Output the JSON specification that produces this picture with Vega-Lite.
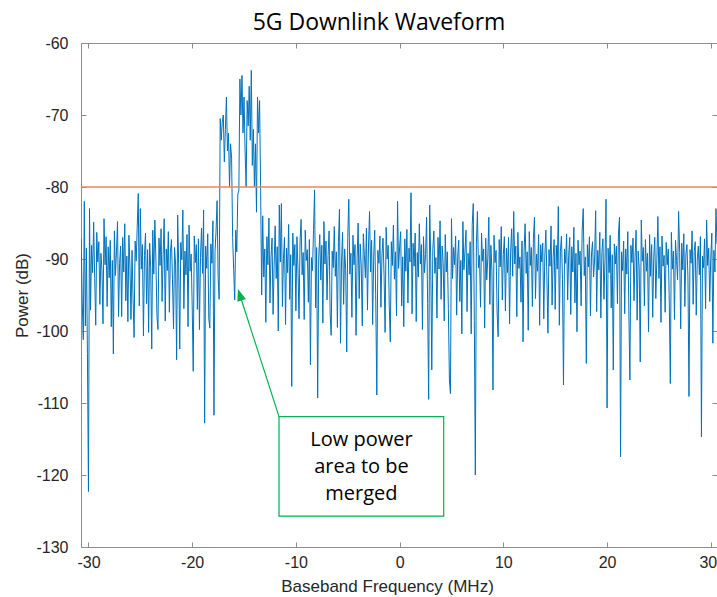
{
  "$schema": "https://vega.github.io/schema/vega-lite/v6.json",
  "width": 636,
  "height": 504,
  "autosize": {"type": "none"},
  "padding": {"left": 81, "top": 43, "right": 0, "bottom": 50},
  "background": "white",
  "title": {
    "text": "5G Downlink Waveform",
    "frame": "group",
    "anchor": "middle",
    "dx": -20,
    "offset": -18,
    "baseline": "alphabetic",
    "font": "Open Sans",
    "fontSize": 23,
    "fontWeight": "normal",
    "color": "#000000"
  },
  "config": {
    "view": {"stroke": null},
    "axis": {
      "grid": false,
      "domainColor": "#8c8c8c",
      "tickColor": "#8c8c8c",
      "tickSize": -5,
      "labelColor": "#262626",
      "labelFont": "Liberation Sans",
      "labelFontSize": 16,
      "labelFlush": false,
      "labelExpr": "'' + datum.value",
      "titleFont": "Liberation Sans",
      "titleFontSize": 17,
      "titleFontWeight": "normal",
      "titleColor": "#262626"
    }
  },
  "data": {"values": [{}]},
  "datasets": {
    "spectrum": [
      {"mhz":-30.7,"db":-87.2},{"mhz":-30.6,"db":-96.0},{"mhz":-30.5,"db":-101.2},{"mhz":-30.4,"db":-82.0},{"mhz":-30.3,"db":-99.3},{"mhz":-30.2,"db":-88.5},{"mhz":-30.1,"db":-103.1},{"mhz":-30.0,"db":-122.3},
      {"mhz":-29.9,"db":-83.0},{"mhz":-29.8,"db":-97.1},{"mhz":-29.7,"db":-88.1},{"mhz":-29.6,"db":-91.9},{"mhz":-29.5,"db":-84.9},{"mhz":-29.4,"db":-92.7},{"mhz":-29.3,"db":-99.2},{"mhz":-29.2,"db":-86.3},{"mhz":-29.1,"db":-90.4},{"mhz":-29.0,"db":-87.6},
      {"mhz":-28.9,"db":-96.3},{"mhz":-28.8,"db":-89.2},{"mhz":-28.7,"db":-91.5},{"mhz":-28.6,"db":-99.0},{"mhz":-28.5,"db":-84.4},{"mhz":-28.4,"db":-90.8},{"mhz":-28.3,"db":-86.9},{"mhz":-28.2,"db":-96.6},{"mhz":-28.1,"db":-88.3},{"mhz":-28.0,"db":-92.6},
      {"mhz":-27.9,"db":-87.4},{"mhz":-27.8,"db":-99.4},{"mhz":-27.7,"db":-90.2},{"mhz":-27.6,"db":-103.2},{"mhz":-27.5,"db":-86.1},{"mhz":-27.4,"db":-92.3},{"mhz":-27.3,"db":-89.0},{"mhz":-27.2,"db":-84.8},{"mhz":-27.1,"db":-98.0},{"mhz":-27.0,"db":-90.6},
      {"mhz":-26.9,"db":-88.2},{"mhz":-26.8,"db":-98.0},{"mhz":-26.7,"db":-87.0},{"mhz":-26.6,"db":-91.8},{"mhz":-26.5,"db":-85.1},{"mhz":-26.4,"db":-95.8},{"mhz":-26.3,"db":-89.6},{"mhz":-26.2,"db":-98.7},{"mhz":-26.1,"db":-86.7},{"mhz":-26.0,"db":-91.1},
      {"mhz":-25.9,"db":-98.4},{"mhz":-25.8,"db":-88.8},{"mhz":-25.7,"db":-95.5},{"mhz":-25.6,"db":-100.9},{"mhz":-25.5,"db":-87.5},{"mhz":-25.4,"db":-90.3},{"mhz":-25.3,"db":-85.6},{"mhz":-25.2,"db":-80.9},{"mhz":-25.1,"db":-96.5},{"mhz":-25.0,"db":-83.0},
      {"mhz":-24.9,"db":-91.4},{"mhz":-24.8,"db":-88.0},{"mhz":-24.7,"db":-100.7},{"mhz":-24.6,"db":-89.5},{"mhz":-24.5,"db":-86.4},{"mhz":-24.4,"db":-96.2},{"mhz":-24.3,"db":-88.7},{"mhz":-24.2,"db":-100.2},{"mhz":-24.1,"db":-87.8},{"mhz":-24.0,"db":-91.2},
      {"mhz":-23.9,"db":-102.5},{"mhz":-23.8,"db":-86.0},{"mhz":-23.7,"db":-92.1},{"mhz":-23.6,"db":-84.6},{"mhz":-23.5,"db":-90.0},{"mhz":-23.4,"db":-97.8},{"mhz":-23.3,"db":-99.8},{"mhz":-23.2,"db":-87.1},{"mhz":-23.1,"db":-90.9},{"mhz":-23.0,"db":-85.8},
      {"mhz":-22.9,"db":-95.9},{"mhz":-22.8,"db":-89.4},{"mhz":-22.7,"db":-84.4},{"mhz":-22.6,"db":-98.6},{"mhz":-22.5,"db":-88.6},{"mhz":-22.4,"db":-91.6},{"mhz":-22.3,"db":-86.2},{"mhz":-22.2,"db":-97.4},{"mhz":-22.1,"db":-89.1},{"mhz":-22.0,"db":-87.3},
      {"mhz":-21.9,"db":-92.8},{"mhz":-21.8,"db":-99.7},{"mhz":-21.7,"db":-88.4},{"mhz":-21.6,"db":-90.7},{"mhz":-21.5,"db":-104.0},{"mhz":-21.4,"db":-83.9},{"mhz":-21.3,"db":-91.0},{"mhz":-21.2,"db":-102.5},{"mhz":-21.1,"db":-87.7},{"mhz":-21.0,"db":-90.1},
      {"mhz":-20.9,"db":-83.2},{"mhz":-20.8,"db":-96.9},{"mhz":-20.7,"db":-88.9},{"mhz":-20.6,"db":-92.2},{"mhz":-20.5,"db":-86.6},{"mhz":-20.4,"db":-99.4},{"mhz":-20.3,"db":-85.3},{"mhz":-20.2,"db":-91.7},{"mhz":-20.1,"db":-89.3},{"mhz":-20.0,"db":-96.4},
      {"mhz":-19.9,"db":-105.6},{"mhz":-19.8,"db":-86.8},{"mhz":-19.7,"db":-90.5},{"mhz":-19.6,"db":-88.0},{"mhz":-19.5,"db":-97.0},{"mhz":-19.4,"db":-87.2},{"mhz":-19.3,"db":-99.8},{"mhz":-19.2,"db":-89.8},{"mhz":-19.1,"db":-85.7},{"mhz":-19.0,"db":-92.0},
      {"mhz":-18.9,"db":-83.2},{"mhz":-18.8,"db":-112.8},{"mhz":-18.7,"db":-88.2},{"mhz":-18.6,"db":-91.3},{"mhz":-18.5,"db":-86.5},{"mhz":-18.4,"db":-98.3},{"mhz":-18.3,"db":-99.6},{"mhz":-18.2,"db":-87.9},{"mhz":-18.1,"db":-90.6},{"mhz":-18.0,"db":-84.7},
      {"mhz":-17.9,"db":-111.7},{"mhz":-17.8,"db":-89.0},{"mhz":-17.7,"db":-86.2},{"mhz":-17.6,"db":-81.9},{"mhz":-17.5,"db":-92.4},{"mhz":-17.4,"db":-95.6},{"mhz":-17.3,"db":-70.5},{"mhz":-17.2,"db":-73.5},{"mhz":-17.1,"db":-71.0},{"mhz":-17.0,"db":-70.0},
      {"mhz":-16.9,"db":-76.5},{"mhz":-16.8,"db":-72.0},{"mhz":-16.7,"db":-67.5},{"mhz":-16.6,"db":-75.0},{"mhz":-16.5,"db":-72.5},{"mhz":-16.4,"db":-80.0},{"mhz":-16.3,"db":-74.0},{"mhz":-16.2,"db":-76.0},{"mhz":-16.1,"db":-87.0},{"mhz":-16.0,"db":-91.5},
      {"mhz":-15.9,"db":-95.7},{"mhz":-15.8,"db":-86.0},{"mhz":-15.7,"db":-89.0},{"mhz":-15.6,"db":-81.0},{"mhz":-15.5,"db":-80.5},{"mhz":-15.4,"db":-65.0},{"mhz":-15.3,"db":-70.0},{"mhz":-15.2,"db":-64.5},{"mhz":-15.1,"db":-72.5},{"mhz":-15.0,"db":-67.5},
      {"mhz":-14.9,"db":-75.0},{"mhz":-14.8,"db":-80.0},{"mhz":-14.7,"db":-68.0},{"mhz":-14.6,"db":-71.5},{"mhz":-14.5,"db":-66.0},{"mhz":-14.4,"db":-73.5},{"mhz":-14.3,"db":-63.8},{"mhz":-14.2,"db":-77.0},{"mhz":-14.1,"db":-72.0},{"mhz":-14.0,"db":-80.0},
      {"mhz":-13.9,"db":-74.0},{"mhz":-13.8,"db":-83.5},{"mhz":-13.7,"db":-67.5},{"mhz":-13.6,"db":-72.5},{"mhz":-13.5,"db":-68.0},{"mhz":-13.4,"db":-80.5},{"mhz":-13.3,"db":-95.0},{"mhz":-13.2,"db":-84.0},{"mhz":-13.1,"db":-92.5},{"mhz":-13.0,"db":-88.6},
      {"mhz":-12.9,"db":-98.8},{"mhz":-12.8,"db":-86.9},{"mhz":-12.7,"db":-90.8},{"mhz":-12.6,"db":-84.3},{"mhz":-12.5,"db":-96.1},{"mhz":-12.4,"db":-89.7},{"mhz":-12.3,"db":-87.1},{"mhz":-12.2,"db":-97.7},{"mhz":-12.1,"db":-91.0},{"mhz":-12.0,"db":-85.4},
      {"mhz":-11.9,"db":-92.7},{"mhz":-11.8,"db":-88.3},{"mhz":-11.7,"db":-100.0},{"mhz":-11.6,"db":-82.5},{"mhz":-11.5,"db":-90.4},{"mhz":-11.4,"db":-82.3},{"mhz":-11.3,"db":-96.6},{"mhz":-11.2,"db":-89.9},{"mhz":-11.1,"db":-87.0},{"mhz":-11.0,"db":-99.1},
      {"mhz":-10.9,"db":-88.5},{"mhz":-10.8,"db":-91.9},{"mhz":-10.7,"db":-85.2},{"mhz":-10.6,"db":-95.6},{"mhz":-10.5,"db":-89.4},{"mhz":-10.4,"db":-107.7},{"mhz":-10.3,"db":-86.4},{"mhz":-10.2,"db":-90.9},{"mhz":-10.1,"db":-88.0},{"mhz":-10.0,"db":-97.2},
      {"mhz":-9.9,"db":-86.9},{"mhz":-9.8,"db":-91.4},{"mhz":-9.7,"db":-98.3},{"mhz":-9.6,"db":-87.6},{"mhz":-9.5,"db":-84.5},{"mhz":-9.4,"db":-92.2},{"mhz":-9.3,"db":-89.1},{"mhz":-9.2,"db":-98.4},{"mhz":-9.1,"db":-86.0},{"mhz":-9.0,"db":-90.2},
      {"mhz":-8.9,"db":-88.7},{"mhz":-8.8,"db":-96.0},{"mhz":-8.7,"db":-87.3},{"mhz":-8.6,"db":-104.7},{"mhz":-8.5,"db":-89.8},{"mhz":-8.4,"db":-91.6},{"mhz":-8.3,"db":-85.9},{"mhz":-8.2,"db":-80.4},{"mhz":-8.1,"db":-96.8},{"mhz":-8.0,"db":-88.4},
      {"mhz":-7.9,"db":-109.3},{"mhz":-7.8,"db":-90.0},{"mhz":-7.7,"db":-86.6},{"mhz":-7.6,"db":-92.9},{"mhz":-7.5,"db":-88.1},{"mhz":-7.4,"db":-98.9},{"mhz":-7.3,"db":-84.8},{"mhz":-7.2,"db":-90.7},{"mhz":-7.1,"db":-87.5},{"mhz":-7.0,"db":-95.7},
      {"mhz":-6.9,"db":-89.5},{"mhz":-6.8,"db":-86.1},{"mhz":-6.7,"db":-97.5},{"mhz":-6.6,"db":-100.6},{"mhz":-6.5,"db":-88.9},{"mhz":-6.4,"db":-91.2},{"mhz":-6.3,"db":-85.5},{"mhz":-6.2,"db":-92.4},{"mhz":-6.1,"db":-89.0},{"mhz":-6.0,"db":-99.5},
      {"mhz":-5.9,"db":-87.7},{"mhz":-5.8,"db":-83.1},{"mhz":-5.7,"db":-101.7},{"mhz":-5.6,"db":-90.3},{"mhz":-5.5,"db":-86.3},{"mhz":-5.4,"db":-96.3},{"mhz":-5.3,"db":-88.6},{"mhz":-5.2,"db":-91.5},{"mhz":-5.1,"db":-102.9},{"mhz":-5.0,"db":-87.0},
      {"mhz":-4.9,"db":-81.7},{"mhz":-4.8,"db":-92.1},{"mhz":-4.7,"db":-89.2},{"mhz":-4.6,"db":-98.1},{"mhz":-4.5,"db":-86.7},{"mhz":-4.4,"db":-90.8},{"mhz":-4.3,"db":-88.0},{"mhz":-4.2,"db":-100.6},{"mhz":-4.1,"db":-89.9},{"mhz":-4.0,"db":-85.0},
      {"mhz":-3.9,"db":-95.5},{"mhz":-3.8,"db":-87.9},{"mhz":-3.7,"db":-91.1},{"mhz":-3.6,"db":-99.3},{"mhz":-3.5,"db":-86.5},{"mhz":-3.4,"db":-89.4},{"mhz":-3.3,"db":-92.6},{"mhz":-3.2,"db":-85.7},{"mhz":-3.1,"db":-97.1},{"mhz":-3.0,"db":-88.2},
      {"mhz":-2.9,"db":-83.4},{"mhz":-2.8,"db":-91.8},{"mhz":-2.7,"db":-87.4},{"mhz":-2.6,"db":-99.1},{"mhz":-2.5,"db":-89.6},{"mhz":-2.4,"db":-86.0},{"mhz":-2.3,"db":-95.8},{"mhz":-2.2,"db":-108.9},{"mhz":-2.1,"db":-88.8},{"mhz":-2.0,"db":-90.6},
      {"mhz":-1.9,"db":-86.8},{"mhz":-1.8,"db":-96.7},{"mhz":-1.7,"db":-89.3},{"mhz":-1.6,"db":-87.1},{"mhz":-1.5,"db":-92.3},{"mhz":-1.4,"db":-100.2},{"mhz":-1.3,"db":-85.6},{"mhz":-1.2,"db":-90.0},{"mhz":-1.1,"db":-88.1},{"mhz":-1.0,"db":-96.4},
      {"mhz":-0.9,"db":-101.5},{"mhz":-0.8,"db":-87.6},{"mhz":-0.7,"db":-90.9},{"mhz":-0.6,"db":-85.3},{"mhz":-0.5,"db":-92.8},{"mhz":-0.4,"db":-89.0},{"mhz":-0.3,"db":-97.9},{"mhz":-0.2,"db":-82.0},{"mhz":-0.1,"db":-91.3},{"mhz":0.0,"db":-88.3},
      {"mhz":0.1,"db":-86.2},{"mhz":0.2,"db":-96.5},{"mhz":0.3,"db":-89.7},{"mhz":0.4,"db":-99.4},{"mhz":0.5,"db":-87.2},{"mhz":0.6,"db":-91.7},{"mhz":0.7,"db":-85.9},{"mhz":0.8,"db":-96.1},{"mhz":0.9,"db":-88.5},{"mhz":1.0,"db":-90.4},
      {"mhz":1.1,"db":-80.8},{"mhz":1.2,"db":-97.6},{"mhz":1.3,"db":-87.8},{"mhz":1.4,"db":-91.0},{"mhz":1.5,"db":-86.4},{"mhz":1.6,"db":-98.7},{"mhz":1.7,"db":-89.1},{"mhz":1.8,"db":-92.5},{"mhz":1.9,"db":-85.1},{"mhz":2.0,"db":-90.7},
      {"mhz":2.1,"db":-88.0},{"mhz":2.2,"db":-99.8},{"mhz":2.3,"db":-86.9},{"mhz":2.4,"db":-91.9},{"mhz":2.5,"db":-89.4},{"mhz":2.6,"db":-84.2},{"mhz":2.7,"db":-96.2},{"mhz":2.8,"db":-109.5},{"mhz":2.9,"db":-82.5},{"mhz":3.0,"db":-90.1},
      {"mhz":3.1,"db":-105.4},{"mhz":3.2,"db":-88.7},{"mhz":3.3,"db":-86.1},{"mhz":3.4,"db":-92.0},{"mhz":3.5,"db":-89.8},{"mhz":3.6,"db":-98.2},{"mhz":3.7,"db":-87.0},{"mhz":3.8,"db":-91.4},{"mhz":3.9,"db":-84.7},{"mhz":4.0,"db":-95.6},
      {"mhz":4.1,"db":-88.2},{"mhz":4.2,"db":-90.6},{"mhz":4.3,"db":-98.6},{"mhz":4.4,"db":-86.6},{"mhz":4.5,"db":-91.8},{"mhz":4.6,"db":-89.0},{"mhz":4.7,"db":-96.9},{"mhz":4.8,"db":-106.8},{"mhz":4.9,"db":-108.7},{"mhz":5.0,"db":-84.4},
      {"mhz":5.1,"db":-92.7},{"mhz":5.2,"db":-88.4},{"mhz":5.3,"db":-90.8},{"mhz":5.4,"db":-86.8},{"mhz":5.5,"db":-97.8},{"mhz":5.6,"db":-89.6},{"mhz":5.7,"db":-87.4},{"mhz":5.8,"db":-95.9},{"mhz":5.9,"db":-90.2},{"mhz":6.0,"db":-100.4},
      {"mhz":6.1,"db":-84.8},{"mhz":6.2,"db":-91.5},{"mhz":6.3,"db":-88.9},{"mhz":6.4,"db":-86.0},{"mhz":6.5,"db":-97.3},{"mhz":6.6,"db":-89.2},{"mhz":6.7,"db":-92.2},{"mhz":6.8,"db":-87.6},{"mhz":6.9,"db":-100.4},{"mhz":7.0,"db":-85.2},
      {"mhz":7.1,"db":-82.3},{"mhz":7.2,"db":-98.5},{"mhz":7.3,"db":-120.0},{"mhz":7.4,"db":-88.0},{"mhz":7.5,"db":-83.4},{"mhz":7.6,"db":-91.2},{"mhz":7.7,"db":-89.5},{"mhz":7.8,"db":-96.7},{"mhz":7.9,"db":-86.4},{"mhz":8.0,"db":-90.3},
      {"mhz":8.1,"db":-88.6},{"mhz":8.2,"db":-99.6},{"mhz":8.3,"db":-87.1},{"mhz":8.4,"db":-92.9},{"mhz":8.5,"db":-89.9},{"mhz":8.6,"db":-84.2},{"mhz":8.7,"db":-96.3},{"mhz":8.8,"db":-88.1},{"mhz":8.9,"db":-91.6},{"mhz":9.0,"db":-108.2},
      {"mhz":9.1,"db":-86.7},{"mhz":9.2,"db":-90.5},{"mhz":9.3,"db":-88.8},{"mhz":9.4,"db":-97.5},{"mhz":9.5,"db":-100.8},{"mhz":9.6,"db":-87.3},{"mhz":9.7,"db":-91.1},{"mhz":9.8,"db":-85.5},{"mhz":9.9,"db":-95.7},{"mhz":10.0,"db":-89.4},
      {"mhz":10.1,"db":-86.9},{"mhz":10.2,"db":-97.2},{"mhz":10.3,"db":-88.5},{"mhz":10.4,"db":-91.9},{"mhz":10.5,"db":-87.0},{"mhz":10.6,"db":-99.0},{"mhz":10.7,"db":-89.1},{"mhz":10.8,"db":-85.8},{"mhz":10.9,"db":-92.4},{"mhz":11.0,"db":-83.4},
      {"mhz":11.1,"db":-90.7},{"mhz":11.2,"db":-88.2},{"mhz":11.3,"db":-98.0},{"mhz":11.4,"db":-86.3},{"mhz":11.5,"db":-91.3},{"mhz":11.6,"db":-89.7},{"mhz":11.7,"db":-96.0},{"mhz":11.8,"db":-87.5},{"mhz":11.9,"db":-101.5},{"mhz":12.0,"db":-88.9},
      {"mhz":12.1,"db":-85.1},{"mhz":12.2,"db":-92.0},{"mhz":12.3,"db":-89.0},{"mhz":12.4,"db":-99.9},{"mhz":12.5,"db":-86.2},{"mhz":12.6,"db":-90.9},{"mhz":12.7,"db":-88.4},{"mhz":12.8,"db":-96.6},{"mhz":12.9,"db":-87.2},{"mhz":13.0,"db":-84.2},
      {"mhz":13.1,"db":-95.5},{"mhz":13.2,"db":-89.3},{"mhz":13.3,"db":-91.7},{"mhz":13.4,"db":-86.6},{"mhz":13.5,"db":-99.2},{"mhz":13.6,"db":-88.0},{"mhz":13.7,"db":-90.4},{"mhz":13.8,"db":-87.8},{"mhz":13.9,"db":-98.3},{"mhz":14.0,"db":-89.6},
      {"mhz":14.1,"db":-86.0},{"mhz":14.2,"db":-92.6},{"mhz":14.3,"db":-100.3},{"mhz":14.4,"db":-88.7},{"mhz":14.5,"db":-91.0},{"mhz":14.6,"db":-85.4},{"mhz":14.7,"db":-96.4},{"mhz":14.8,"db":-89.8},{"mhz":14.9,"db":-87.3},{"mhz":15.0,"db":-97.0},
      {"mhz":15.1,"db":-88.1},{"mhz":15.2,"db":-91.4},{"mhz":15.3,"db":-82.7},{"mhz":15.4,"db":-99.2},{"mhz":15.5,"db":-89.0},{"mhz":15.6,"db":-86.8},{"mhz":15.7,"db":-92.8},{"mhz":15.8,"db":-107.5},{"mhz":15.9,"db":-88.6},{"mhz":16.0,"db":-90.6},
      {"mhz":16.1,"db":-86.5},{"mhz":16.2,"db":-95.7},{"mhz":16.3,"db":-89.5},{"mhz":16.4,"db":-87.0},{"mhz":16.5,"db":-97.7},{"mhz":16.6,"db":-88.3},{"mhz":16.7,"db":-91.8},{"mhz":16.8,"db":-85.6},{"mhz":16.9,"db":-96.1},{"mhz":17.0,"db":-89.2},
      {"mhz":17.1,"db":-100.1},{"mhz":17.2,"db":-87.4},{"mhz":17.3,"db":-90.8},{"mhz":17.4,"db":-88.9},{"mhz":17.5,"db":-96.5},{"mhz":17.6,"db":-86.1},{"mhz":17.7,"db":-83.0},{"mhz":17.8,"db":-92.3},{"mhz":17.9,"db":-89.7},{"mhz":18.0,"db":-104.5},
      {"mhz":18.1,"db":-88.0},{"mhz":18.2,"db":-91.1},{"mhz":18.3,"db":-86.9},{"mhz":18.4,"db":-97.9},{"mhz":18.5,"db":-89.3},{"mhz":18.6,"db":-87.6},{"mhz":18.7,"db":-92.5},{"mhz":18.8,"db":-90.0},{"mhz":18.9,"db":-83.3},{"mhz":19.0,"db":-97.3},
      {"mhz":19.1,"db":-88.8},{"mhz":19.2,"db":-91.5},{"mhz":19.3,"db":-86.3},{"mhz":19.4,"db":-98.2},{"mhz":19.5,"db":-89.1},{"mhz":19.6,"db":-87.2},{"mhz":19.7,"db":-95.6},{"mhz":19.8,"db":-90.2},{"mhz":19.9,"db":-81.7},{"mhz":20.0,"db":-110.7},
      {"mhz":20.1,"db":-88.5},{"mhz":20.2,"db":-91.9},{"mhz":20.3,"db":-86.7},{"mhz":20.4,"db":-96.8},{"mhz":20.5,"db":-89.4},{"mhz":20.6,"db":-105.4},{"mhz":20.7,"db":-87.9},{"mhz":20.8,"db":-90.7},{"mhz":20.9,"db":-88.2},{"mhz":21.0,"db":-96.2},
      {"mhz":21.1,"db":-86.4},{"mhz":21.2,"db":-84.2},{"mhz":21.3,"db":-117.5},{"mhz":21.4,"db":-89.0},{"mhz":21.5,"db":-91.6},{"mhz":21.6,"db":-87.5},{"mhz":21.7,"db":-97.6},{"mhz":21.8,"db":-88.6},{"mhz":21.9,"db":-92.1},{"mhz":22.0,"db":-86.2},
      {"mhz":22.1,"db":-97.1},{"mhz":22.2,"db":-106.8},{"mhz":22.3,"db":-88.1},{"mhz":22.4,"db":-90.5},{"mhz":22.5,"db":-87.1},{"mhz":22.6,"db":-95.8},{"mhz":22.7,"db":-89.6},{"mhz":22.8,"db":-86.0},{"mhz":22.9,"db":-98.5},{"mhz":23.0,"db":-88.9},
      {"mhz":23.1,"db":-91.3},{"mhz":23.2,"db":-104.3},{"mhz":23.3,"db":-84.6},{"mhz":23.4,"db":-90.3},{"mhz":23.5,"db":-88.4},{"mhz":23.6,"db":-96.5},{"mhz":23.7,"db":-87.3},{"mhz":23.8,"db":-91.7},{"mhz":23.9,"db":-89.2},{"mhz":24.0,"db":-100.1},
      {"mhz":24.1,"db":-86.6},{"mhz":24.2,"db":-92.4},{"mhz":24.3,"db":-88.0},{"mhz":24.4,"db":-98.1},{"mhz":24.5,"db":-89.8},{"mhz":24.6,"db":-87.0},{"mhz":24.7,"db":-95.5},{"mhz":24.8,"db":-90.1},{"mhz":24.9,"db":-84.1},{"mhz":25.0,"db":-92.7},
      {"mhz":25.1,"db":-88.3},{"mhz":25.2,"db":-98.8},{"mhz":25.3,"db":-86.8},{"mhz":25.4,"db":-91.0},{"mhz":25.5,"db":-89.5},{"mhz":25.6,"db":-97.4},{"mhz":25.7,"db":-87.7},{"mhz":25.8,"db":-90.8},{"mhz":25.9,"db":-88.6},{"mhz":26.0,"db":-96.0},
      {"mhz":26.1,"db":-107.3},{"mhz":26.2,"db":-86.3},{"mhz":26.3,"db":-91.4},{"mhz":26.4,"db":-88.9},{"mhz":26.5,"db":-98.4},{"mhz":26.6,"db":-87.4},{"mhz":26.7,"db":-90.2},{"mhz":26.8,"db":-92.9},{"mhz":26.9,"db":-83.4},{"mhz":27.0,"db":-89.1},
      {"mhz":27.1,"db":-99.7},{"mhz":27.2,"db":-87.8},{"mhz":27.3,"db":-91.5},{"mhz":27.4,"db":-86.5},{"mhz":27.5,"db":-96.6},{"mhz":27.6,"db":-89.3},{"mhz":27.7,"db":-88.0},{"mhz":27.8,"db":-92.6},{"mhz":27.9,"db":-109.1},{"mhz":28.0,"db":-88.7},
      {"mhz":28.1,"db":-90.6},{"mhz":28.2,"db":-86.1},{"mhz":28.3,"db":-96.3},{"mhz":28.4,"db":-89.0},{"mhz":28.5,"db":-87.6},{"mhz":28.6,"db":-97.8},{"mhz":28.7,"db":-90.0},{"mhz":28.8,"db":-88.2},{"mhz":28.9,"db":-92.2},{"mhz":29.0,"db":-86.9},
      {"mhz":29.1,"db":-114.7},{"mhz":29.2,"db":-89.6},{"mhz":29.3,"db":-91.2},{"mhz":29.4,"db":-87.2},{"mhz":29.5,"db":-96.9},{"mhz":29.6,"db":-84.6},{"mhz":29.7,"db":-90.9},{"mhz":29.8,"db":-88.5},{"mhz":29.9,"db":-95.9},{"mhz":30.0,"db":-89.9},
      {"mhz":30.1,"db":-86.4},{"mhz":30.2,"db":-101.7},{"mhz":30.3,"db":-88.8},{"mhz":30.4,"db":-91.8},{"mhz":30.5,"db":-83.0},{"mhz":30.6,"db":-87.9}
    ]
  },
  "layer": [
    {
      "data": {"name": "spectrum"},
      "mark": {"type": "line", "color": "#0072BD", "strokeWidth": 1, "clip": true},
      "encoding": {
        "x": {
          "field": "mhz",
          "type": "quantitative",
          "scale": {"domain": [-30.72, 30.6], "nice": false, "zero": false},
          "axis": {
            "orient": "bottom",
            "values": [-30, -20, -10, 0, 10, 20, 30],
            "labelPadding": 12,
            "labelOffset": {"condition": {"test": "datum.value == 30", "value": -3}, "value": 0},
            "title": "Baseband Frequency (MHz)",
            "titleBaseline": "alphabetic",
            "titleX": 306,
            "titleY": 44
          }
        },
        "y": {
          "field": "db",
          "type": "quantitative",
          "scale": {"domain": [-130, -60], "nice": false, "zero": false},
          "axis": {
            "orient": "left",
            "values": [-130, -120, -110, -100, -90, -80, -70, -60],
            "labelPadding": 18,
            "title": "Power (dB)",
            "titleBaseline": "middle",
            "titleX": -59,
            "titleY": 252
          }
        }
      }
    },
    {
      "mark": {"type": "rule", "color": "#E8875F", "strokeWidth": 1.3},
      "encoding": {
        "y": {
          "datum": -80,
          "type": "quantitative",
          "axis": {
            "orient": "right",
            "values": [-130, -120, -110, -100, -90, -80, -70, -60],
            "labels": false,
            "title": null
          }
        }
      }
    },
    {
      "mark": {"type": "rect", "fill": "white", "stroke": "#00B050", "strokeWidth": 1.2},
      "encoding": {
        "x": {
          "datum": -11.63,
          "type": "quantitative",
          "axis": {
            "orient": "top",
            "values": [-30, -20, -10, 0, 10, 20, 30],
            "labels": false,
            "title": null
          }
        },
        "x2": {"datum": 4.25},
        "y": {"datum": -111.9, "type": "quantitative", "axis": null},
        "y2": {"datum": -125.7}
      }
    },
    {
      "mark": {
        "type": "text",
        "text": ["Low power", "area to be", "merged"],
        "font": "Open Sans",
        "fontSize": 20,
        "lineHeight": 27,
        "align": "center",
        "baseline": "middle",
        "color": "#000000"
      },
      "encoding": {
        "x": {"datum": -3.68, "type": "quantitative", "axis": null},
        "y": {"datum": -115.1, "type": "quantitative", "axis": null}
      }
    },
    {
      "mark": {"type": "rule", "color": "#00B050", "strokeWidth": 1.2},
      "encoding": {
        "x": {"datum": -11.63, "type": "quantitative", "axis": null},
        "y": {"datum": -111.9, "type": "quantitative", "axis": null},
        "x2": {"datum": -15.41},
        "y2": {"datum": -94.96}
      }
    },
    {
      "mark": {
        "type": "point",
        "shape": "M0,-1L0.75,1L-0.75,1Z",
        "size": 144,
        "angle": 342,
        "filled": true,
        "color": "#00B050",
        "opacity": 1
      },
      "encoding": {
        "x": {"datum": -15.41, "type": "quantitative", "axis": null},
        "y": {"datum": -94.96, "type": "quantitative", "axis": null}
      }
    }
  ],
  "resolve": {"axis": {"x": "independent", "y": "independent"}}
}
